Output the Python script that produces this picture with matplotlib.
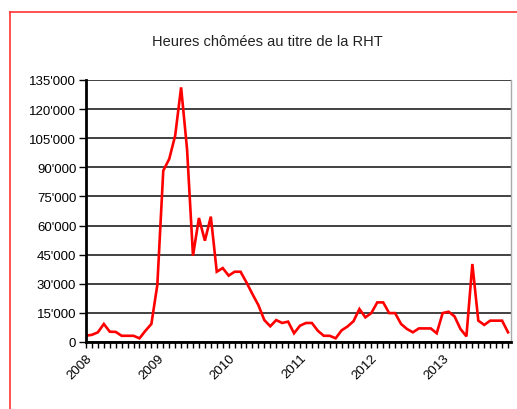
import matplotlib
matplotlib.use("Agg")
import matplotlib.pyplot as plt
from matplotlib.ticker import FuncFormatter, MultipleLocator, FixedLocator
from matplotlib.lines import Line2D

plt.rcParams['font.family'] = ['Liberation Sans', 'DejaVu Sans']

title = "Heures chômées au titre de la RHT"
years = ["2008", "2009", "2010", "2011", "2012", "2013"]
hours = [
    3250, 3700, 5000, 9300, 5300, 5200, 3200, 3200, 3200, 1900, 5800, 9300,
    29400, 88300, 94300, 106300, 131200, 99400, 44500, 63900, 52200, 64600, 36200, 38100,
    34200, 36200, 36200, 30700, 24700, 19000, 11300, 8100, 11300, 9800, 10500, 4500,
    8400, 9800, 9800, 5800, 3200, 3200, 1900, 6000, 8000, 10700, 17000, 12700,
    14900, 20400, 20400, 14900, 14900, 9300, 6700, 5000, 7000, 7000, 7000, 4500,
    14900, 15600, 13200, 6700, 2900, 40200, 11000, 8800, 11000, 11000, 11000, 5000,
]

fig = plt.figure(figsize=(5.17, 4.10), dpi=100)
ax = fig.add_axes([86/517, 1-343/410, (511-86)/517, (343-81)/410])

x = list(range(len(hours)))
ax.plot(x, hours, color='#ff0000', linewidth=1.9, solid_joinstyle='miter')

ax.set_xlim(0, len(hours) - 0.5)
ax.set_ylim(0, 135000)
ax.yaxis.set_major_locator(MultipleLocator(15000))
ax.yaxis.set_major_formatter(FuncFormatter(lambda v, p: "0" if v == 0 else f"{int(v):,}".replace(",", "'")))
ax.grid(axis='y', color='#333333', linewidth=1.3)
ax.set_axisbelow(True)

ax.xaxis.set_major_locator(FixedLocator([i * 12 for i in range(len(years))]))
ax.set_xticklabels(years, rotation=45, ha='right', va='top', rotation_mode='anchor', fontsize=9.5)
ax.xaxis.set_minor_locator(FixedLocator([i for i in range(len(hours) + 1) if i % 12 != 0]))
ax.tick_params(axis='x', which='both', direction='out', length=4, width=1, color='black', pad=3)
ax.tick_params(axis='y', direction='out', length=5, width=1, labelsize=9.5, pad=2)

for s in ['top']:
    ax.spines[s].set_visible(False)
ax.spines['right'].set_color('#aaaaaa')
ax.spines['right'].set_linewidth(1.0)
ax.spines['left'].set_linewidth(2)
ax.spines['bottom'].set_linewidth(2)

fig.text(267/517, 1-42/410, title, ha='center', va='center', fontsize=10.5, color='#222222')

# red outer frame (left & top)
fig.add_artist(Line2D([10/517, 10/517], [0, 1-13/410], color='#ff3333', linewidth=1.2, transform=fig.transFigure))
fig.add_artist(Line2D([10/517, 1], [1-13/410, 1-13/410], color='#ff3333', linewidth=1.2, transform=fig.transFigure))

fig.savefig("out.png", dpi=100)
